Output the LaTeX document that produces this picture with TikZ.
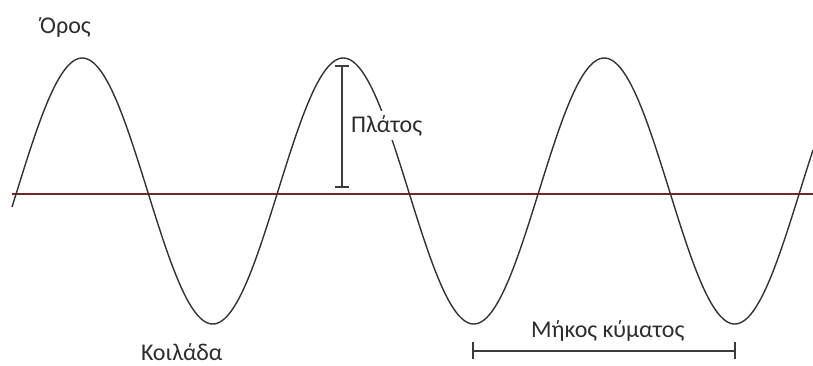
\documentclass[tikz,border=0pt]{standalone}
\usepackage{fontspec}
\setmainfont{Carlito}
\definecolor{wavec}{RGB}{50,50,50}
\definecolor{axisc}{RGB}{115,40,40}
\definecolor{barc}{RGB}{60,60,60}
\definecolor{textc}{RGB}{45,45,45}
\begin{document}
\begin{tikzpicture}[x=1pt,y=-1pt,
  lbl/.style={anchor=base west,inner sep=0pt,font=\fontsize{24}{28}\selectfont,text=textc},
  dimline/.style={draw=barc,line width=1.3pt}]
\useasboundingbox (0,0) rectangle (813,365);
% axis
\coordinate (axL) at (12,194);
\coordinate (axR) at (813,194);
\draw[axisc,line width=1.4pt] (axL) -- (axR);
% wave
\draw[wavec,line width=1.4pt,smooth] plot[domain=12:813,samples=400] (\x,{191-133*sin(((\x-17)/261)*360)});
% amplitude bar
\coordinate (aT) at (342,66);
\coordinate (aB) at (342,187);
\draw[dimline] (aT) -- (aB);
\draw[dimline] ([xshift=-7]aT) -- ([xshift=7]aT);
\draw[dimline] ([xshift=-7]aB) -- ([xshift=7]aB);
% wavelength bar
\coordinate (wL) at (473,351);
\coordinate (wR) at (735,351);
\draw[dimline] (wL) -- (wR);
\draw[dimline] ([yshift=-8]wL) -- ([yshift=9]wL);
\draw[dimline] ([yshift=-8]wR) -- ([yshift=9]wR);
% labels
\node[lbl] (oros) at (40,33) {Όρος};
\node[lbl,fill=white,inner xsep=2pt,inner ysep=4pt] (platos) at (349,132) {Πλάτος};
\node[lbl] (koilada) at (141,360) {Κοιλάδα};
\node[lbl] (mikos) at (531,337) {Μήκος κύματος};
\end{tikzpicture}
\end{document}
